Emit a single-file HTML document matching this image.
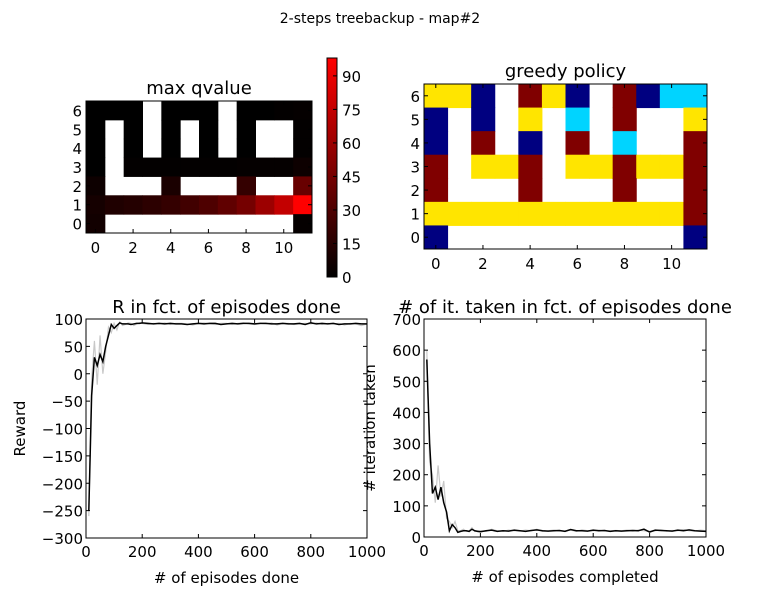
<!DOCTYPE html>
<html><head><meta charset="utf-8"><style>
body{margin:0;background:#fff;}
svg{display:block;font-family:"DejaVu Sans","Liberation Sans",sans-serif;}
</style></head><body>
<svg id="fig" width="761" height="596" viewBox="0 0 761 596">
<text x="380" y="23" font-size="14" text-anchor="middle">2-steps treebackup - map#2</text>
</svg>
<script>
// ---- data ----
var qRows = [ // row 6 down to row 0, null = wall
 [0,0,0,null,0,0,0,null,0,0,1,2],
 [0,null,0,null,0,null,0,null,0,null,null,1],
 [0,null,0,null,0,null,0,null,0,null,null,1],
 [0,null,1,1,1,1,1,1,2,2,2,5],
 [5,null,null,null,10,null,null,null,20,null,null,40],
 [8,12,14,17,20,25,30,37,45,60,75,98],
 [7,null,null,null,null,null,null,null,null,null,null,2]
];
var pRows = [ // Y yellow, N navy, M maroon, C cyan, W wall
 "YYNWMYNWMNCC",
 "NWNWYWCWMWWY",
 "NWMWNWMWCWWM",
 "MWYYMWYYMYYM",
 "MWWWMWWWMWWM",
 "YYYYYYYYYYYM",
 "NWWWWWWWWWWN"
];
var cbTicks = [0,15,30,45,60,75,90];
var episodes = [10,20,30,40,50,60,70,80,90,100,110,120,130,140,150,160,170,180,190,200,220,240,260,280,300,320,340,360,380,400,420,440,460,480,500,520,540,560,580,600,620,640,660,680,700,720,740,760,780,800,820,840,860,880,900,920,940,960,980,1000];
var reward = [-250,-40,30,15,35,22,50,70,90,83,88,93,91,91,91,90,91,92,92,93,92,91,92,91,92,91,91,90,91,92,91,92,92,90,91,92,91,92,92,91,92,92,91,91,92,91,91,92,90,93,91,92,91,92,90,91,91,92,91,91];
var rewardGray = [-260,-10,60,-20,70,0,40,85,75,92,80,95,88,90,93,92,88,91,93,92,90,92,91,93,90,92,92,91,89,92,93,91,90,92,92,90,92,93,91,90,92,91,93,89,92,92,90,91,92,91,93,90,92,91,92,89,92,91,88,91];
var iters = [570,300,140,160,120,160,110,80,20,40,30,15,18,20,20,18,25,20,18,17,20,22,18,20,19,22,20,18,21,23,20,19,20,21,18,24,20,20,19,22,20,21,18,20,19,20,21,20,25,16,22,21,20,19,22,20,23,20,19,18];
var itersGray = [600,240,200,110,230,130,180,60,50,30,50,20,20,25,18,20,30,18,20,20,18,25,20,18,22,20,19,22,20,25,18,20,22,19,20,22,18,23,20,20,22,19,20,21,20,22,19,22,20,18,20,23,19,21,20,24,20,19,22,20];
var rTicks = [-300,-250,-200,-150,-100,-50,0,50,100];
var iTicks = [0,100,200,300,400,500,600,700];
var xTicks = [0,200,400,600,800,1000];

var NS="http://www.w3.org/2000/svg", svg=document.getElementById('fig');
function mk(tag,attrs,parent){var e=document.createElementNS(NS,tag);for(var k in attrs)e.setAttribute(k,attrs[k]);(parent||svg).appendChild(e);return e;}
function txt(x,y,s,size,anchor,parent){var t=mk('text',{x:x,y:y,'font-size':size,'text-anchor':anchor||'middle'},parent);t.textContent=s;return t;}

function heat(x0,y0,w,h,rows,colorFn,name,xt,yt,tk){
  var g=mk('g',{});
  
  
  var cw=w/12,ch=h/7;
  rows.forEach(function(r,i){for(var j=0;j<12;j++){var v=typeof r==='string'?r[j]:r[j];var c=colorFn(v);if(!c)continue;
    var rc=mk('rect',{x:x0+j*cw,y:y0+i*ch,width:cw+0.5,height:ch+0.5,fill:c},g);
    
    }});
  mk('rect',{x:x0,y:y0,width:w,height:h,fill:'none',stroke:'#000','stroke-width':1},g);
  for(var k=0;k<=10;k+=2){var xx=x0+(k+0.5)*cw;mk('line',{x1:xx,y1:y0+h,x2:xx,y2:y0+h-4,stroke:'#000'},g);mk('line',{x1:xx,y1:y0,x2:xx,y2:y0+4,stroke:'#000'},g);txt(xx,y0+h+20,String(k),15,'middle',g);}
  for(var r=0;r<7;r++){var yy=y0+(6-r+0.5)*ch;mk('line',{x1:x0,y1:yy,x2:x0+4,y2:yy,stroke:'#000'},g);mk('line',{x1:x0+w,y1:yy,x2:x0+w-4,y2:yy,stroke:'#000'},g);txt(x0-4,yy+6,String(r),15,'end',g);}
  txt(x0+w/2,y0-7,tk,18,'middle',g);
}
heat(86,101,226,132,qRows,function(v){return v===null?null:'rgb('+Math.round(v/98*255)+',0,0)';},'max-qvalue-heatmap',0,0,'max qvalue');
var pc={Y:'#ffe500',N:'#000080',M:'#800000',C:'#00d4ff',W:null};
heat(424,84,283,165,pRows,function(v){return pc[v];},'greedy-policy-heatmap',0,0,'greedy policy');

// colorbar
var cb=mk('g',{});


var defs=mk('defs',{});var lg=mk('linearGradient',{id:'cbg',x1:0,y1:1,x2:0,y2:0},defs);
mk('stop',{offset:0,'stop-color':'#000'},lg);mk('stop',{offset:1,'stop-color':'#f00'},lg);
var cbY0=58,cbY1=277,cbMax=98;
mk('rect',{x:327,y:cbY0,width:10,height:cbY1-cbY0,fill:'url(#cbg)',stroke:'#000'},cb);
cbTicks.forEach(function(t){var yy=cbY1-(t/cbMax)*(cbY1-cbY0);mk('line',{x1:333,y1:yy,x2:337,y2:yy,stroke:'#000'},cb);txt(342,yy+6,String(t),15,'start',cb);});

function chart(x0,y0,x1,y1,ymin,ymax,yt,title,xlabel,ylabel,main,gray,name,ylx){
  var g=mk('g',{});
  
  
  var sx=function(v){return x0+(v/1000)*(x1-x0);},sy=function(v){return y1-(v-ymin)/(ymax-ymin)*(y1-y0);};
  var pg=gray.map(function(v,i){return sx(episodes[i])+','+sy(v);}).join(' ');
  var l1=mk('polyline',{points:pg,fill:'none',stroke:'#c8c8c8','stroke-width':1.2},g);
  
  
  var pm=main.map(function(v,i){return sx(episodes[i])+','+sy(v);}).join(' ');
  var l2=mk('polyline',{points:pm,fill:'none',stroke:'#000','stroke-width':1.5},g);
  
  
  mk('rect',{x:x0,y:y0,width:x1-x0,height:y1-y0,fill:'none',stroke:'#000'},g);
  xTicks.forEach(function(t){var xx=sx(t);mk('line',{x1:xx,y1:y1,x2:xx,y2:y1-4,stroke:'#000'},g);mk('line',{x1:xx,y1:y0,x2:xx,y2:y0+4,stroke:'#000'},g);txt(xx,y1+19,String(t),15,'middle',g);});
  yt.forEach(function(t){var yy=sy(t);mk('line',{x1:x0,y1:yy,x2:x0+4,y2:yy,stroke:'#000'},g);mk('line',{x1:x1,y1:yy,x2:x1-4,y2:yy,stroke:'#000'},g);txt(x0-3,yy+6,String(t).replace('-','\u2212'),15,'end',g);});
  txt((x0+x1)/2,y0-6,title,18,'middle',g);
  txt((x0+x1)/2,y1+45,xlabel,15,'middle',g);
  var yl=txt(0,0,ylabel,15,'middle',g);yl.setAttribute('transform','translate('+ylx+','+((y0+y1)/2)+') rotate(-90)');
}
chart(86,319,367,538,-300,100,rTicks,'R in fct. of episodes done','# of episodes done','Reward',reward,rewardGray,'reward-chart',25);
chart(424,319,706,537,0,700,iTicks,'# of it. taken in fct. of episodes done','# of episodes completed','# iteration taken',iters,itersGray,'iterations-chart',375);
</script>
</body></html>
